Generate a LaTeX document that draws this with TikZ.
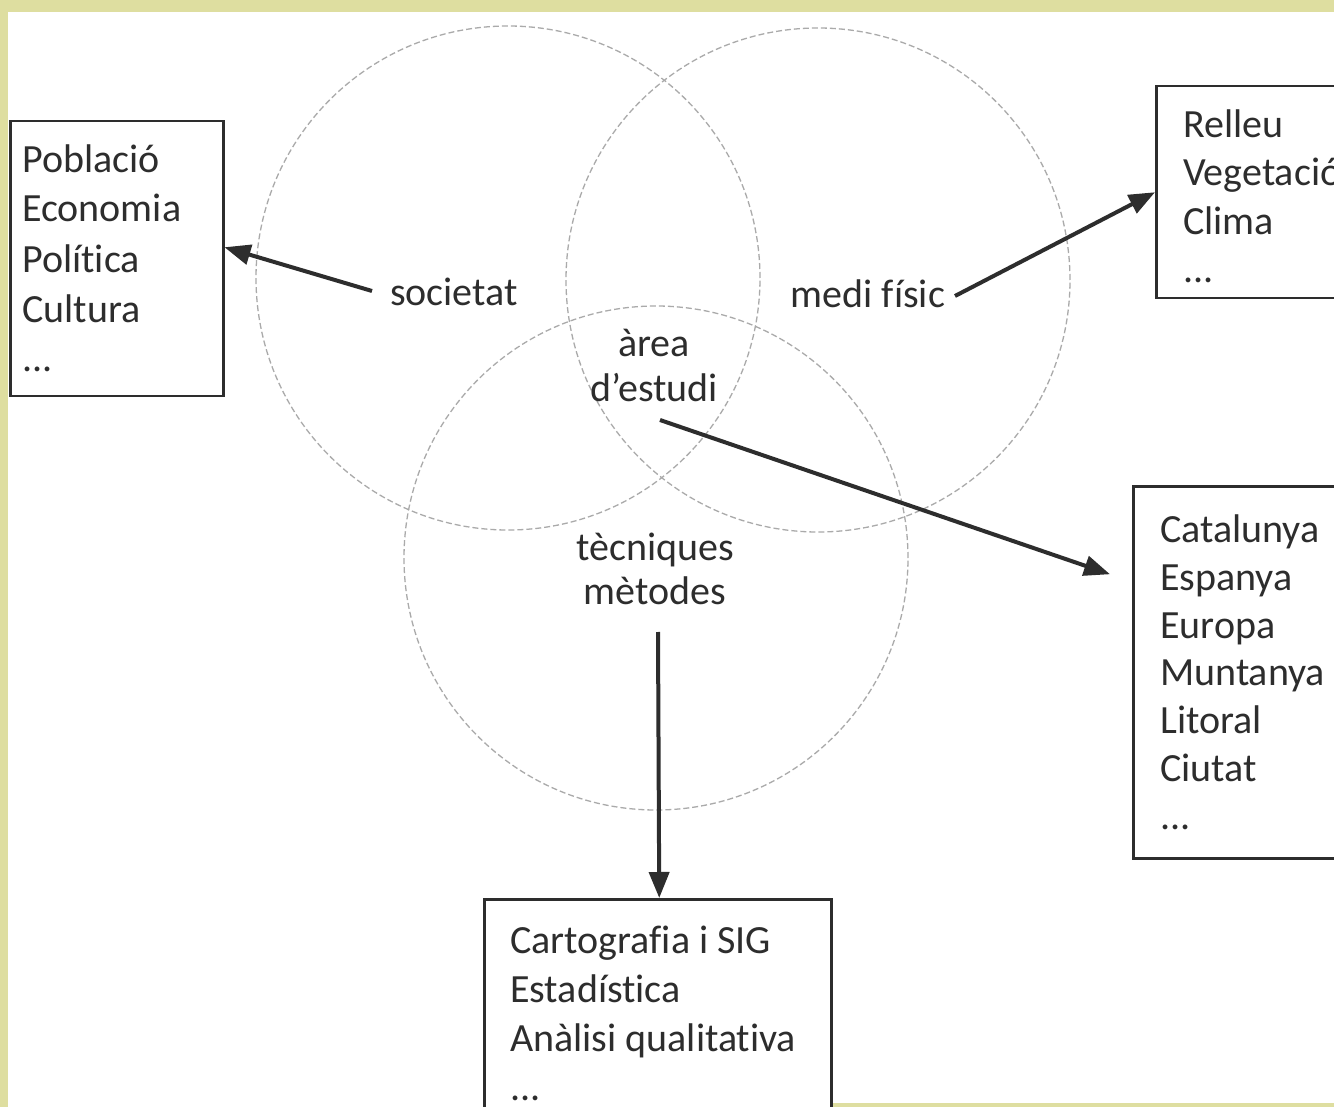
\documentclass[tikz,border=0pt]{standalone}
\usepackage{fontspec}
\setmainfont{Carlito}[Ligatures={NoCommon}]
\usetikzlibrary{arrows.meta}
\definecolor{frameyellow}{RGB}{222,222,160}
\definecolor{ink}{RGB}{45,45,45}
\definecolor{ringgray}{RGB}{170,170,170}
\begin{document}
\begin{tikzpicture}[x=1pt,y=-1pt,
  every node/.style={text=ink},
  box/.style={draw=ink, line width=2.5pt, inner sep=0pt, anchor=north west},
  txt/.style={align=left, inner sep=0pt, anchor=base west},
  lbl/.style={align=center, inner sep=0pt, anchor=base},
  ring/.style={circle, draw=ringgray, line width=1.3pt, dash pattern=on 6pt off 3pt, minimum size=504pt, inner sep=0pt},
  arr/.style={draw=ink, line width=4pt, -{Triangle[length=26pt,width=20pt]}}]
\useasboundingbox (0,0) rectangle (1334,1107);
\clip (0,0) rectangle (1334,1107);
\fill[frameyellow] (0,0) rectangle (1334,1107);
\fill[white] (8,12) rectangle (1334,1107);
\fill[frameyellow] (830,1103) rectangle (1334,1107);
% circles
\node[ring] (C1) at (508,278) {};
\node[ring] (C2) at (818,280) {};
\node[ring] (C3) at (656,558) {};
% boxes
\node[box, minimum width=213pt, minimum height=275pt] (L) at (9,120) {};
\node[box, minimum width=250pt, minimum height=212pt] (TR) at (1155,85) {};
\node[box, minimum width=260pt, minimum height=372pt] (R) at (1132,485) {};
\node[box, minimum width=347pt, minimum height=260pt] (B) at (483,898) {};
% box texts (base anchor = baseline of last line)
\node[txt, font=\fontsize{40}{50}\selectfont] (Ltxt) at (22,372) {Població\\Economia\\Política\\Cultura\\...};
\node[txt, font=\fontsize{40}{48.5}\selectfont] (TRtxt) at (1183,283) {Relleu\\Vegetació\\Clima\\...};
\node[txt, font=\fontsize{40}{47.7}\selectfont] (Rtxt) at (1160,829) {Catalunya\\Espanya\\Europa\\Muntanya\\Litoral\\Ciutat\\...};
\node[txt, font=\fontsize{40}{49}\selectfont] (Btxt) at (510,1100) {Cartografia i SIG\\Estadística\\Anàlisi qualitativa\\...};
% labels
\node[lbl, font=\fontsize{40}{44}\selectfont] (soc) at (454,306) {societat};
\node[lbl, font=\fontsize{40}{44}\selectfont] (medi) at (868,308) {medi físic};
\node[lbl, font=\fontsize{40}{45}\selectfont] (area) at (654,402) {àrea\\d’estudi};
\node[lbl, font=\fontsize{40}{44}\selectfont] (tec) at (655,604) {tècniques\\mètodes};
% arrows
\coordinate (socA) at (372,291);
\coordinate (mediA) at (955,296);
\coordinate (areaA) at (660,420);
\coordinate (tecA) at (658,632);
\draw[arr] (socA) -- ([yshift=11.5pt]L.east);
\draw[arr] (mediA) -- (TR.west);
\draw[arr] (areaA) -- ([xshift=-22pt,yshift=98pt]R.west);
\draw[arr] (tecA) -- ([xshift=1.5pt]B.north);
\end{tikzpicture}
\end{document}
